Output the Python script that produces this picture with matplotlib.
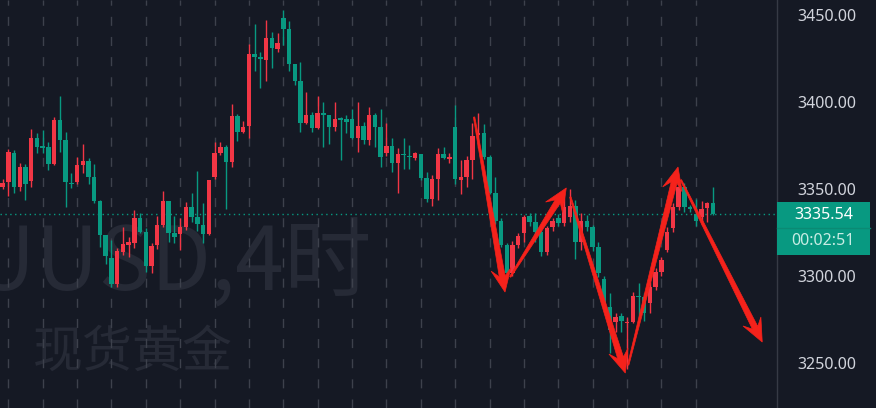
import numpy as np
import matplotlib
matplotlib.use("Agg")
import matplotlib.pyplot as plt
from matplotlib.patches import Polygon, Rectangle

# ---------------- data (4h candles) ----------------
opens = [3345.7, 3351.4, 3354.3, 3370.9, 3351.0, 3362.9, 3354.9, 3379.2, 3375.0, 3374.0,
         3364.4, 3389.7, 3378.2, 3353.7, 3353.9, 3363.9, 3366.4, 3356.8, 3343.2, 3323.7,
         3310.3, 3295.5, 3314.1, 3317.9, 3319.3, 3333.2, 3325.6, 3305.9, 3317.9, 3329.4,
         3343.4, 3324.6, 3324.2, 3328.1, 3339.5, 3333.8, 3329.4, 3324.2, 3356.8, 3370.9,
         3374.4, 3365.8, 3392.0, 3382.6, 3386.5, 3427.4, 3426.1, 3424.1, 3437.0, 3430.5,
         3448.1, 3442.0, 3421.7, 3412.1, 3387.8, 3392.6, 3384.9, 3393.5, 3392.6, 3385.9,
         3390.7, 3390.3, 3390.3, 3379.2, 3386.3, 3378.2, 3392.6, 3385.5, 3371.0, 3374.8,
         3364.8, 3370.2, 3369.0, 3367.7, 3370.2, 3356.2, 3344.2, 3355.6, 3370.2, 3367.1,
         3385.5, 3355.3, 3356.8, 3366.7, 3381.1, 3382.4, 3368.3, 3347.6, 3331.9, 3317.9,
         3301.7, 3317.9, 3325.0, 3334.6, 3331.3, 3325.6, 3314.1, 3328.1, 3333.2, 3330.4,
         3334.2, 3340.3, 3319.9, 3331.9, 3328.1, 3317.0, 3298.5, 3282.5, 3273.9, 3277.2,
         3273.0, 3273.9, 3288.7, 3287.9, 3284.8, 3293.6, 3302.6, 3315.1, 3327.5, 3340.0,
         3351.4, 3339.6, 3335.7, 3334.2, 3339.0, 3341.9]
highs = [3352.4, 3355.6, 3372.9, 3372.5, 3365.2, 3364.4, 3384.4, 3382.4, 3384.0, 3377.3,
         3391.6, 3403.7, 3383.0, 3359.1, 3368.3, 3375.7, 3367.7, 3364.4, 3343.8, 3323.7,
         3320.8, 3316.0, 3328.4, 3322.7, 3338.0, 3336.5, 3327.5, 3318.9, 3334.6, 3349.1,
         3343.4, 3334.6, 3333.2, 3342.8, 3348.0, 3360.4, 3342.2, 3355.3, 3377.3, 3377.3,
         3375.3, 3398.9, 3393.2, 3389.1, 3433.2, 3444.6, 3428.6, 3447.1, 3440.0, 3439.5,
         3452.9, 3446.6, 3421.7, 3422.8, 3405.6, 3394.1, 3403.7, 3400.2, 3392.6, 3399.8,
         3391.6, 3392.6, 3396.0, 3399.8, 3388.7, 3397.0, 3393.9, 3395.8, 3388.2, 3379.2,
         3373.4, 3379.2, 3375.3, 3371.5, 3370.2, 3360.0, 3358.1, 3373.4, 3374.4, 3370.6,
         3398.3, 3366.7, 3369.0, 3388.2, 3393.5, 3387.4, 3369.6, 3357.2, 3333.2, 3318.9,
         3320.4, 3325.0, 3335.2, 3336.5, 3336.5, 3328.5, 3328.8, 3333.2, 3335.7, 3347.2,
         3349.9, 3343.8, 3336.1, 3335.2, 3329.4, 3319.9, 3300.0, 3290.6, 3278.7, 3278.7,
         3276.8, 3291.1, 3296.3, 3290.2, 3296.9, 3304.5, 3311.2, 3328.5, 3342.0, 3354.0,
         3353.3, 3340.9, 3344.1, 3343.4, 3342.8, 3351.0]
lows = [3345.5, 3349.9, 3346.1, 3348.0, 3349.1, 3343.8, 3351.0, 3370.9, 3370.6, 3361.0,
        3363.9, 3371.5, 3339.6, 3350.5, 3352.9, 3359.5, 3352.9, 3342.3, 3316.6, 3307.0,
        3294.0, 3294.0, 3312.2, 3310.8, 3316.0, 3324.6, 3302.6, 3301.7, 3315.4, 3328.4,
        3319.8, 3319.3, 3315.1, 3326.5, 3331.3, 3326.2, 3319.3, 3323.7, 3355.6, 3369.6,
        3338.4, 3362.5, 3377.8, 3382.0, 3379.6, 3417.8, 3408.3, 3412.1, 3419.8, 3428.9,
        3432.8, 3417.8, 3409.8, 3383.0, 3387.2, 3383.0, 3384.5, 3374.4, 3375.7, 3383.4,
        3366.7, 3382.0, 3378.8, 3371.1, 3375.9, 3375.3, 3374.0, 3362.5, 3369.0, 3360.0,
        3347.6, 3361.4, 3361.4, 3366.7, 3355.3, 3342.8, 3340.3, 3343.8, 3367.1, 3364.8,
        3353.0, 3347.2, 3351.4, 3355.6, 3373.4, 3367.3, 3347.2, 3330.0, 3317.0, 3299.8,
        3300.1, 3316.0, 3319.9, 3328.8, 3319.9, 3311.6, 3312.2, 3326.2, 3328.8, 3328.8,
        3331.3, 3309.7, 3315.1, 3326.2, 3314.7, 3299.8, 3281.6, 3255.7, 3268.2, 3268.2,
        3247.0, 3273.0, 3274.5, 3274.5, 3278.7, 3292.1, 3300.1, 3314.1, 3325.6, 3338.0,
        3337.1, 3337.1, 3328.8, 3329.4, 3331.3, 3335.2]
closes = [3351.4, 3353.3, 3371.5, 3351.0, 3362.9, 3352.9, 3379.2, 3374.0, 3373.8, 3364.4,
          3389.7, 3378.2, 3354.3, 3352.8, 3363.9, 3366.2, 3356.8, 3343.2, 3323.7, 3311.8,
          3295.5, 3314.5, 3318.5, 3319.8, 3333.2, 3325.6, 3305.9, 3317.4, 3329.4, 3343.4,
          3324.6, 3322.7, 3328.4, 3339.5, 3333.8, 3330.0, 3324.2, 3355.3, 3370.9, 3374.4,
          3365.8, 3392.0, 3383.0, 3385.9, 3427.4, 3426.1, 3424.7, 3437.0, 3430.9, 3433.7,
          3442.0, 3421.7, 3412.1, 3387.8, 3392.6, 3384.9, 3393.5, 3392.6, 3385.9, 3390.3,
          3389.7, 3388.8, 3379.2, 3386.5, 3378.2, 3392.6, 3385.5, 3368.6, 3374.8, 3364.8,
          3370.2, 3369.4, 3368.3, 3370.6, 3356.2, 3344.2, 3355.6, 3370.2, 3367.7, 3368.3,
          3355.6, 3356.8, 3366.7, 3380.5, 3382.4, 3368.3, 3347.6, 3331.9, 3317.9, 3301.7,
          3317.9, 3323.1, 3334.2, 3331.3, 3325.6, 3314.1, 3327.5, 3331.9, 3330.4, 3339.6,
          3340.3, 3319.9, 3331.9, 3328.1, 3317.0, 3301.7, 3282.5, 3269.1, 3276.8, 3274.5,
          3273.9, 3288.7, 3287.9, 3278.7, 3293.6, 3302.6, 3309.3, 3325.6, 3340.0, 3351.4,
          3339.9, 3338.4, 3331.9, 3338.4, 3341.9, 3335.54]

price_ticks = [3250, 3300, 3350, 3400, 3450]
last_price_label = "3335.54"
countdown_label = "00:02:51"
watermark_symbol = "XAUUSD,4时"
watermark_name = "现货黄金"
grid_every = 6          # one dashed line per trading day (6 x 4h)
grid_first = 1

# hand-drawn arrows: (candle index, price) start -> end
arrow_x0 = [82.3, 88.6, 99.1, 109.2, 118.4]
arrow_p0 = [3391.4, 3299.6, 3345.5, 3249.0, 3355.3]
arrow_x1 = [87.7, 98.4, 108.7, 117.9, 132.6]
arrow_p1 = [3290.9, 3350.7, 3244.4, 3362.7, 3262.2]

# ---------------- style ----------------
BG = "#151924"
UP = "#F23645"     # red = rising (Chinese convention)
DOWN = "#089981"   # green = falling
GRID = "#3d414c"
TXT = "#d1d4dc"
WM = "#262a36"
ARROW = "#F5221B"

W, H = 876, 408
fig = plt.figure(figsize=(W / 100, H / 100), dpi=100, facecolor=BG)
ax = fig.add_axes([0, 0, 776 / W, 1])
ax.set_facecolor(BG)

o = np.array(opens); h = np.array(highs); l = np.array(lows); c = np.array(closes)
n = len(o)
x = np.arange(n) - 1

ax.set_xlim(-0.45, 135.0)
ax.set_ylim(3224.33, 3458.61)

# watermark (symbol runs off the left edge, as in the original)
ax.text(372 / 776, 1 - 290 / H, watermark_symbol, transform=ax.transAxes,
        ha="right", va="baseline", fontsize=63, color=WM,
        family=["Noto Sans CJK SC", "DejaVu Sans"], zorder=0)
ax.text(33 / 776, 1 - 353 / H, watermark_name, transform=ax.transAxes,
        ha="left", va="center", fontsize=36, color=WM,
        family=["Noto Sans CJK SC", "DejaVu Sans"], zorder=0)

# vertical dashed grid
grid_x = np.arange(grid_first, n - 2, grid_every)
for gx in grid_x:
    ax.axvline(gx, color=GRID, lw=1.0, dashes=(6.5, 8), zorder=1)

# candles
colors = np.where(c >= o, UP, DOWN)
ax.vlines(x, l, h, colors=colors, lw=1.0, zorder=3)
body_lo = np.minimum(o, c)
body_h = np.maximum(np.abs(c - o), 0.6)
ax.bar(x, body_h, bottom=body_lo, width=0.78, color=colors, lw=0, zorder=4)

# last price line
last = c[-1]
ax.axhline(last, color=DOWN, lw=1.0, dashes=(1, 2.5), zorder=2)

# axes styling
for s in ax.spines.values():
    s.set_visible(False)
ax.set_xticks([])
ax.yaxis.tick_right()
ax.set_yticks(price_ticks)
ax.set_yticklabels([f"{v:.2f}" for v in price_ticks])
ax.tick_params(axis="y", length=0, pad=15, labelsize=11.5, labelcolor=TXT)
for lab in ax.get_yticklabels():
    lab.set_family("Noto Sans")

# separator of price scale
fig.add_artist(plt.Line2D([776.5 / W, 776.5 / W], [0, 1], color="#363a45", lw=1))

# price box
fig.canvas.draw()
_, ly = ax.transData.transform((0, last))
box = Rectangle((777, ly - 41), 93, 53, transform=None, facecolor=DOWN,
                edgecolor="none", zorder=10)
fig.add_artist(box)
fig.add_artist(plt.Line2D([777, 870], [ly - 14, ly - 14], transform=None,
                          color="#0b8a74", lw=1, zorder=11))
fig.text(823.5 / W, (ly - 0.5) / H, last_price_label, ha="center", va="center",
         fontsize=11.5, color="white", family="Noto Sans", weight="bold", zorder=12)
fig.text(823.5 / W, (ly - 27) / H, countdown_label, ha="center", va="center",
         fontsize=11.5, color="#c8ece4", family="Noto Sans", zorder=12)

# arrows (tapered shaft + notched head), built in pixel space
def draw_arrow(x0, p0, x1, p1):
    S = np.array(ax.transData.transform((x0, p0)))
    T = np.array(ax.transData.transform((x1, p1)))
    u = (T - S) / np.linalg.norm(T - S)
    nrm = np.array([-u[1], u[0]])
    L, Wd, Ln, w0, w1 = 23.0, 10.0, 16.0, 0.7, 3.0
    pts = [S + nrm * w0,
           T - u * Ln + nrm * w1,
           T - u * L + nrm * Wd,
           T,
           T - u * L - nrm * Wd,
           T - u * Ln - nrm * w1,
           S - nrm * w0]
    poly = Polygon(pts, closed=True, transform=None, facecolor=ARROW,
                   edgecolor=ARROW, lw=0.5, zorder=20)
    fig.add_artist(poly)

for a, b, cc, d in zip(arrow_x0, arrow_p0, arrow_x1, arrow_p1):
    draw_arrow(a, b, cc, d)

fig.savefig("out.png", dpi=100, facecolor=BG)
